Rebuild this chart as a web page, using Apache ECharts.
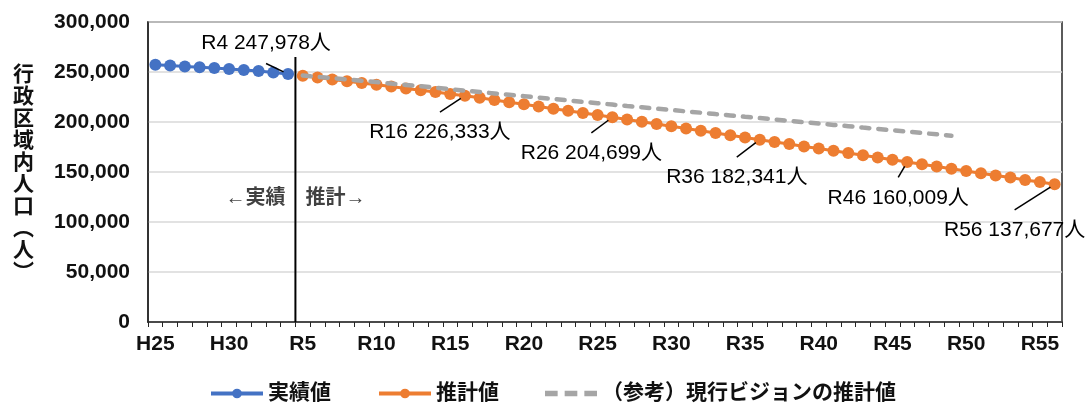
<!DOCTYPE html>
<html>
<head>
<meta charset="utf-8">
<script src="https://cdn.jsdelivr.net/npm/echarts@6/dist/echarts.min.js"></script>
<style>html,body{margin:0;padding:0;background:#fff;}#c{width:1091px;height:405px;}</style>
</head>
<body>
<div id="c"></div>
<script>
// ---- data ----
const categories = ['H25','H26','H27','H28','H29','H30','R1','R2','R3','R4',
  'R5','R6','R7','R8','R9','R10','R11','R12','R13','R14','R15','R16','R17','R18','R19','R20',
  'R21','R22','R23','R24','R25','R26','R27','R28','R29','R30','R31','R32','R33','R34','R35',
  'R36','R37','R38','R39','R40','R41','R42','R43','R44','R45','R46','R47','R48','R49','R50',
  'R51','R52','R53','R54','R55','R56'];
// 実績値 H25..R4
const actualValues = [257200, 256500, 255600, 254800, 253900, 253000, 252100, 251000, 249600, 247978];
// 推計値 R5..R56
const projectionValues = [246200, 244400, 242600, 240800, 239000, 237200, 235400, 233600, 231700, 229900, 228100, 226333,
  224200, 222000, 219800, 217700, 215500, 213300, 211200, 209000, 206900, 204699,
  202500, 200200, 198000, 195700, 193500, 191300, 189000, 186800, 184600, 182341,
  180100, 177900, 175600, 173400, 171200, 168900, 166700, 164500, 162200, 160009,
  157800, 155500, 153300, 151100, 148800, 146600, 144400, 142100, 139900, 137677];
const projectionStart = 'R5';
// （参考）現行ビジョンの推計値 R5..R49
const visionValues = [246500, 245200, 243900, 242600, 241200, 239900, 238500, 237100, 235700, 234300,
  232800, 231400, 230000, 228600, 227200, 225800, 224400, 223000, 221600, 220200,
  218800, 217400, 216000, 214700, 213300, 212000, 210600, 209300, 207900, 206600,
  205200, 203900, 202500, 201200, 199800, 198500, 197100, 195800, 194400, 193100,
  191700, 190400, 189000, 187700, 186300];
const visionStart = 'R5';
const annotatedCategories = ['R4','R16','R26','R36','R46','R56'];
const yTicks = [0, 50000, 100000, 150000, 200000, 250000, 300000];
const dividerBoundary = 10;   // boundary between R4 and R5 (category index)
const dividerTop = 265000;
const phaseLabels = ['←実績', '推計→'];
const phaseLabelValue = 124000;
const seriesNames = ['実績値', '推計値', '（参考）現行ビジョンの推計値'];

// ---- layout (not data) ----
const annotationOffsets = [[-22,-31],[-25,37],[-21,36],[-23,38],[-9,36],[-40,46]];

// ---- build ----
const n = categories.length;
function fill(values, startCat) {
  const arr = new Array(n).fill(null);
  const s = categories.indexOf(startCat);
  values.forEach((v, i) => { arr[s + i] = v; });
  return arr;
}
const actualFull = fill(actualValues, categories[0]);
const projFull = fill(projectionValues, projectionStart);
const visionFull = fill(visionValues, visionStart);
const annData = annotatedCategories.map(c => {
  const i = categories.indexOf(c);
  const v = actualFull[i] != null ? actualFull[i] : projFull[i];
  return [c, v];
});

const FONT = '"Liberation Sans", "Noto Sans CJK JP", sans-serif';
const TXT = '#111';
const dashIcon = 'path://M0,0h9v4h-9z M14,0h9v4h-9z M28,0h9v4h-9z';
const chart = echarts.init(document.getElementById('c'));
chart.setOption({
  animation: false,
  backgroundColor: '#fff',
  grid: { left: 148, right: 29, top: 22, bottom: 83, show: true, borderColor: '#262626', borderWidth: 1.5, backgroundColor: 'transparent' },
  legend: {
    data: [seriesNames[0], seriesNames[1], { name: seriesNames[2], icon: dashIcon, itemStyle: { color: '#A5A5A5' } }],
    top: 378, left: 204,
    itemWidth: 52, itemHeight: 12, itemGap: 46,
    lineStyle: { width: 4 },
    textStyle: { fontFamily: FONT, fontSize: 21, fontWeight: 'bold', color: TXT }
  },
  xAxis: [{
    type: 'category', data: categories, boundaryGap: true,
    axisLine: { lineStyle: { color: '#262626', width: 1.5 } },
    axisTick: { show: true, interval: 0, length: 5, lineStyle: { color: '#262626', width: 1 } },
    axisLabel: { interval: 4, margin: 12, fontFamily: FONT, fontSize: 21, fontWeight: 'bold', color: TXT },
    splitLine: { show: false }
  }, {
    type: 'value', min: 0, max: n, show: false, gridIndex: 0
  }],
  yAxis: {
    type: 'value', min: yTicks[0], max: yTicks[yTicks.length - 1], interval: yTicks[1] - yTicks[0],
    name: '行\n政\n区\n域\n内\n人\n口\n︵\n人\n︶',
    nameLocation: 'middle', nameRotate: 0, nameGap: 114,
    nameTextStyle: { fontFamily: '"Noto Sans CJK JP", sans-serif', fontSize: 21, fontWeight: 'bold', color: TXT, lineHeight: 22 },
    axisLine: { show: true, lineStyle: { color: '#262626', width: 1.5 } },
    axisTick: { show: false },
    axisLabel: { margin: 18, fontFamily: FONT, fontSize: 21, fontWeight: 'bold', color: TXT,
      formatter: v => v.toLocaleString('en-US') },
    splitLine: { lineStyle: { color: '#d9d9d9', width: 1.5 } }
  },
  series: [
    { name: seriesNames[0], type: 'line', data: actualFull, color: '#4472C4',
      symbol: 'circle', symbolSize: 12, showSymbol: true, showAllSymbol: true, lineStyle: { width: 3 }, z: 3 },
    { name: seriesNames[1], type: 'line', data: projFull, color: '#ED7D31',
      symbol: 'circle', symbolSize: 12, showSymbol: true, showAllSymbol: true, lineStyle: { width: 3 }, z: 3 },
    { name: seriesNames[2], type: 'line', data: visionFull, color: '#A5A5A5',
      symbol: 'none', lineStyle: { width: 4.5, type: [8, 9], cap: 'round' }, z: 4 },
    { name: 'divider', type: 'line', xAxisIndex: 1, silent: true, symbol: 'none',
      data: [[dividerBoundary, 0], [dividerBoundary, dividerTop]],
      lineStyle: { color: '#000', width: 2 }, z: 5 },
    { name: 'phase', type: 'scatter', xAxisIndex: 1, silent: true, symbolSize: 0,
      data: [
        { value: [dividerBoundary, phaseLabelValue, phaseLabels[0]], label: { position: 'left' } },
        { value: [dividerBoundary, phaseLabelValue, phaseLabels[1]], label: { position: 'right' } }
      ],
      label: { show: true, fontFamily: FONT, fontSize: 20, fontWeight: 'bold', color: TXT,
        formatter: p => p.value[2], distance: 10 },
      z: 6
    },
    { name: 'annot', type: 'scatter', silent: true, symbolSize: 10,
      itemStyle: { color: 'rgba(0,0,0,0)' },
      data: annData,
      label: { show: true, position: 'top', fontFamily: FONT, fontSize: 21, color: '#000', opacity: 1,
        backgroundColor: 'rgba(255,255,255,0)', padding: [10, 2, 10, 2],
        formatter: p => p.value[0] + ' ' + p.value[1].toLocaleString('en-US') + '人' },
      labelLine: { show: true, lineStyle: { color: '#000', width: 1.5, opacity: 1 } },
      labelLayout: p => {
        const o = annotationOffsets[p.dataIndex];
        return { x: p.rect.x + p.rect.width / 2 + o[0], y: p.rect.y + p.rect.height / 2 + o[1],
                 align: 'center', verticalAlign: 'middle' };
      },
      z: 7
    }
  ]
});
</script>
</body>
</html>
